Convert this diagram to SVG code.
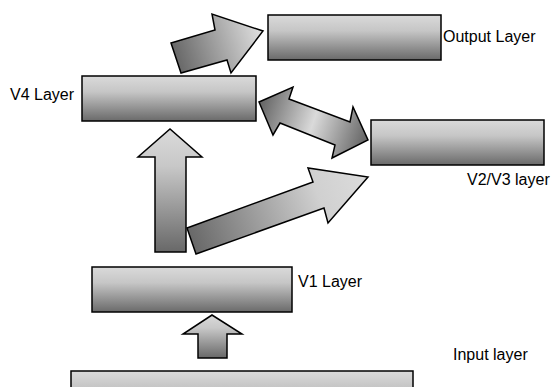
<svg xmlns="http://www.w3.org/2000/svg" width="554" height="387" viewBox="0 0 554 387">
<style>
.box{fill:url(#gBox);stroke:#000;stroke-width:1.5}
.arr{stroke:#000;stroke-width:1.5;stroke-linejoin:miter}
.up{fill:url(#gUp)}
.lbl{font-family:"Liberation Sans",Arial,sans-serif;font-size:16px;fill:#000}
</style>
<defs>
<linearGradient id="gBox" x1="0" y1="0" x2="0" y2="1">
<stop offset="0" stop-color="#dadada"/>
<stop offset="0.35" stop-color="#c6c6c6"/>
<stop offset="1" stop-color="#6a6a6a"/>
</linearGradient>
<linearGradient id="gUp" x1="0" y1="0" x2="0" y2="1">
<stop offset="0" stop-color="#dadada"/>
<stop offset="0.3" stop-color="#c8c8c8"/>
<stop offset="1" stop-color="#686868"/>
</linearGradient>
<linearGradient id="gOut" gradientUnits="userSpaceOnUse" x1="176" y1="58" x2="258" y2="32">
<stop offset="0" stop-color="#686868"/>
<stop offset="1" stop-color="#dadada"/>
</linearGradient>
<linearGradient id="gDiag" gradientUnits="userSpaceOnUse" x1="191" y1="241" x2="360" y2="180">
<stop offset="0" stop-color="#686868"/>
<stop offset="0.75" stop-color="#d0d0d0"/>
<stop offset="1" stop-color="#dadada"/>
</linearGradient>
<linearGradient id="gDbl" gradientUnits="userSpaceOnUse" x1="262" y1="104" x2="365" y2="139">
<stop offset="0" stop-color="#686868"/>
<stop offset="0.5" stop-color="#dadada"/>
<stop offset="1" stop-color="#686868"/>
</linearGradient>
</defs>

<g id="connectors">
<polygon class="arr" fill="url(#gOut)" points="171,43 215,30 212,14 263,31 231,73 227,60 181,73"/>
<polygon class="arr" fill="url(#gDbl)" points="259,102 293,87 289,99 350,122 353,107 368,140 332,158 335,145 280,123 273,135"/>
<polygon class="arr up" points="155,252 155,157 138,157 170,129 202,157 186,157 186,252"/>
<polygon class="arr" fill="url(#gDiag)" points="187,228 313,182 308,168 368,177 328,223 324,208 196,254"/>
<polygon class="arr up" points="198,358 198,334 183,334 212,315 242,334 227,334 227,358"/>
</g>

<g id="output-layer">
<rect class="box" x="268" y="15" width="173" height="45"/>
<text class="lbl" x="443" y="42">Output Layer</text>
</g>
<g id="v4-layer">
<rect class="box" x="82" y="76" width="174" height="45"/>
<text class="lbl" x="10" y="100">V4 Layer</text>
</g>
<g id="v2v3-layer">
<rect class="box" x="371" y="120" width="173" height="45"/>
<text class="lbl" x="467" y="185">V2/V3 layer</text>
</g>
<g id="v1-layer">
<rect class="box" x="92" y="267" width="200" height="45"/>
<text class="lbl" x="298" y="287">V1 Layer</text>
</g>
<g id="input-layer">
<rect class="box" x="71" y="371" width="342" height="45"/>
<text class="lbl" x="453" y="360">Input layer</text>
</g>
</svg>
